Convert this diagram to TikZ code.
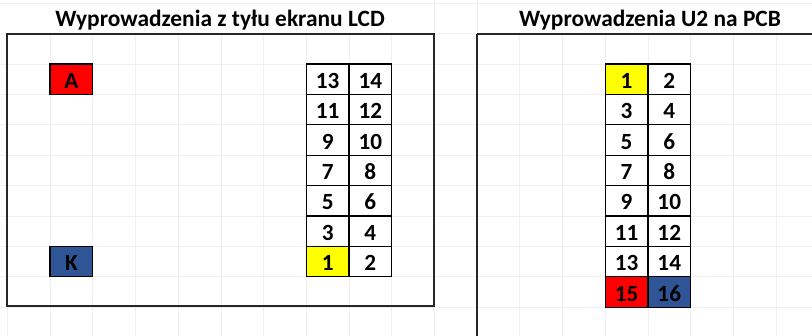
\documentclass[tikz,border=0pt]{standalone}
\usepackage{fontspec}
\setmainfont{Carlito}
\definecolor{gridc}{RGB}{240,240,240}
\definecolor{boxc}{RGB}{38,38,38}
\definecolor{pinred}{RGB}{255,0,0}
\definecolor{pinblue}{RGB}{47,85,151}
\definecolor{pinyellow}{RGB}{255,255,0}
\begin{document}
\begin{tikzpicture}[x=1pt,y=-1pt,
  cell/.style={draw=black, line width=1.3pt, minimum width=42.7pt, minimum height=30.4pt,
    inner sep=0pt, text height=18.4pt, text depth=0pt,
    font=\fontsize{23.2}{26}\selectfont\bfseries, anchor=center},
  titletext/.style={font=\fontsize{23.4}{26}\selectfont\bfseries, anchor=base, inner sep=0pt},
  frame/.style={draw=boxc, line width=2pt},
  gridline/.style={draw=gridc, line width=0.8pt}]
\useasboundingbox (0,0) rectangle (812,336);
% spreadsheet grid
\foreach \k in {0,...,19}{
  \draw[gridline] (7.4+42.7*\k,33.6) -- (7.4+42.7*\k,336);
}
\foreach \j in {0,...,11}{
  \draw[gridline] (0,3.2+30.4*\j) -- (812,3.2+30.4*\j);
}
\draw[gridline] (434.4,0) -- (434.4,33.6);
\draw[gridline] (477.1,0) -- (477.1,33.6);
% titles
\node[titletext] (t1) at (220,27) {Wyprowadzenia z tyłu ekranu LCD};
\node[titletext] (t2) at (650,27) {Wyprowadzenia U2 na PCB};
% frames
\draw[frame] (7.4,33.6) rectangle (433.6,306.4);
\draw[frame] (477.1,33.6) -- (477.1,340);
\draw[frame] (477.1,33.6) -- (816,33.6);
% A and K
\node[cell, fill=pinred] (A) at (71.45,79.2) {A};
\node[cell, fill=pinblue] (K) at (71.45,261.6) {K};
% left table
\foreach \a/\b/\fa/\r in {13/14/white/0, 11/12/white/1, 9/10/white/2, 7/8/white/3,
                         5/6/white/4, 3/4/white/5, 1/2/pinyellow/6}{
  \node[cell, fill=\fa] (L\a) at (327.65,79.2+30.4*\r) {\a};
  \node[cell, fill=white] (L\b) at (370.35,79.2+30.4*\r) {\b};
}
% right table
\foreach \a/\b/\fa/\fb/\r in {1/2/pinyellow/white/0, 3/4/white/white/1, 5/6/white/white/2,
                             7/8/white/white/3, 9/10/white/white/4, 11/12/white/white/5,
                             13/14/white/white/6, 15/16/pinred/pinblue/7}{
  \node[cell, fill=\fa] (R\a) at (626.55,79.2+30.4*\r) {\a};
  \node[cell, fill=\fb] (R\b) at (669.25,79.2+30.4*\r) {\b};
}
\end{tikzpicture}
\end{document}
